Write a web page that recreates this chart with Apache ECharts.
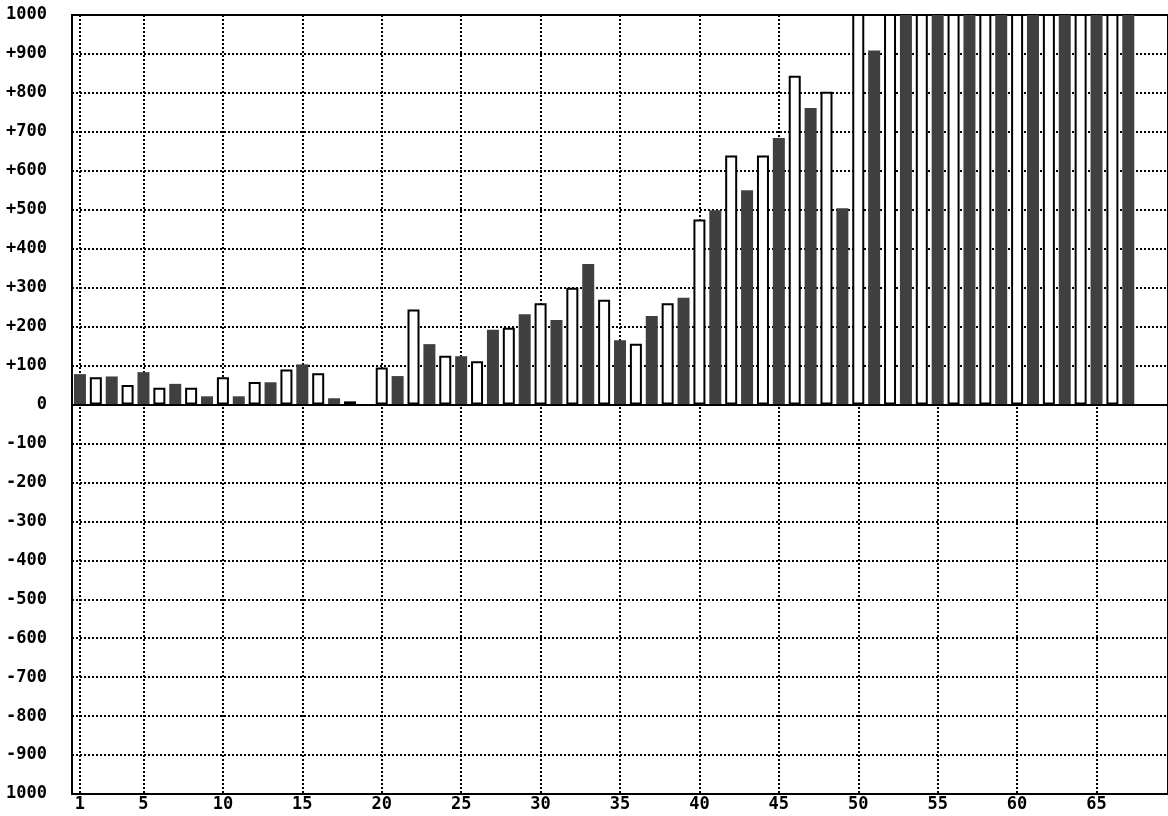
<!DOCTYPE html>
<html>
<head>
<meta charset="utf-8">
<script src="https://cdn.jsdelivr.net/npm/echarts@6/dist/echarts.min.js"></script>
<style>
html,body{margin:0;padding:0;background:#fff;}
#chart{width:1168px;height:816px;}
</style>
</head>
<body>
<div id="chart"></div>
<script>
// Categories 1..69 along the x axis
const categories = Array.from({length: 69}, (_, i) => String(i + 1));
// Categories that carry a tick label and a vertical grid line
const tickLabels = ['1','5','10','15','20','25','30','35','40','45','50','55','60','65'];
// Dark bars: odd categories 1,3,...,67 (values >= 1000 run off the top of the chart)
const darkValues = [78, 72, 83, 53, 21, 21, 57, 103, 16, 0, 73, 155, 124, 192, 232, 217, 361, 165, 227, 274,
  499, 550, 684, 761, 504, 909, 1050, 1050, 1050, 1050, 1050, 1050, 1050, 1050];
// White (outlined) bars: even categories 2,4,...,66
const whiteValues = [70, 50, 43, 43, 70, 58, 90, 80, 8, 95, 244, 125, 111, 197, 260, 300, 269, 156, 260, 475,
  639, 639, 844, 803, 1050, 1050, 1050, 1050, 1050, 1050, 1050, 1050, 1050];

const darkData = categories.map((c, i) => (i % 2 === 0 && darkValues[i / 2] !== undefined) ? darkValues[i / 2] : null);
const whiteData = categories.map((c, i) => (i % 2 === 1 && whiteValues[(i - 1) / 2] !== undefined) ? whiteValues[(i - 1) / 2] : null);

const FONT = 'DejaVu Sans Mono';
const isTick = (idx) => tickLabels.indexOf(categories[idx]) >= 0;

const chart = echarts.init(document.getElementById('chart'), null, {renderer: 'canvas'});
chart.setOption({
  animation: false,
  backgroundColor: '#fff',
  grid: {left: 72, right: -8, top: 15, bottom: 22, show: true, borderColor: '#000', borderWidth: 2, backgroundColor: 'transparent'},
  xAxis: {
    type: 'category',
    data: categories,
    boundaryGap: true,
    axisLine: {show: true, onZero: false, lineStyle: {color: '#000', width: 2}},
    axisTick: {show: false, alignWithLabel: true, interval: (idx) => isTick(idx)},
    axisLabel: {
      interval: (idx) => isTick(idx),
      color: '#000', fontFamily: FONT, fontSize: 17, fontWeight: 'bold', margin: 2
    },
    splitLine: {
      show: true,
      alignWithLabel: true,
      interval: (idx) => isTick(idx),
      lineStyle: {color: '#000', width: 2, type: [2, 2]}
    }
  },
  yAxis: {
    type: 'value',
    min: -1000, max: 1000, interval: 100,
    axisLine: {show: true, lineStyle: {color: '#000', width: 2}},
    axisTick: {show: false},
    axisLabel: {
      color: '#000', fontFamily: FONT, fontSize: 17, fontWeight: 'bold', margin: 25,
      formatter: v => {
        if (Math.abs(v) === 1000) return '1000';
        if (v > 0) return '+' + v;
        return String(v);
      }
    },
    splitLine: {show: true, lineStyle: {color: '#000', width: 2, type: [2, 2]}}
  },
  series: [
    {
      type: 'bar', name: 'dark', data: darkData, barWidth: 12, barGap: '-100%',
      itemStyle: {color: '#404040'}, clip: true,
      markLine: {
        silent: true, symbol: 'none', label: {show: false},
        lineStyle: {color: '#000', width: 2, type: 'solid'},
        data: [{yAxis: 0}]
      }
    },
    {
      type: 'bar', name: 'white', data: whiteData, barWidth: 12, barGap: '-100%',
      itemStyle: {color: '#fff', borderColor: '#000', borderWidth: 2}, clip: true
    }
  ]
});
</script>
</body>
</html>
